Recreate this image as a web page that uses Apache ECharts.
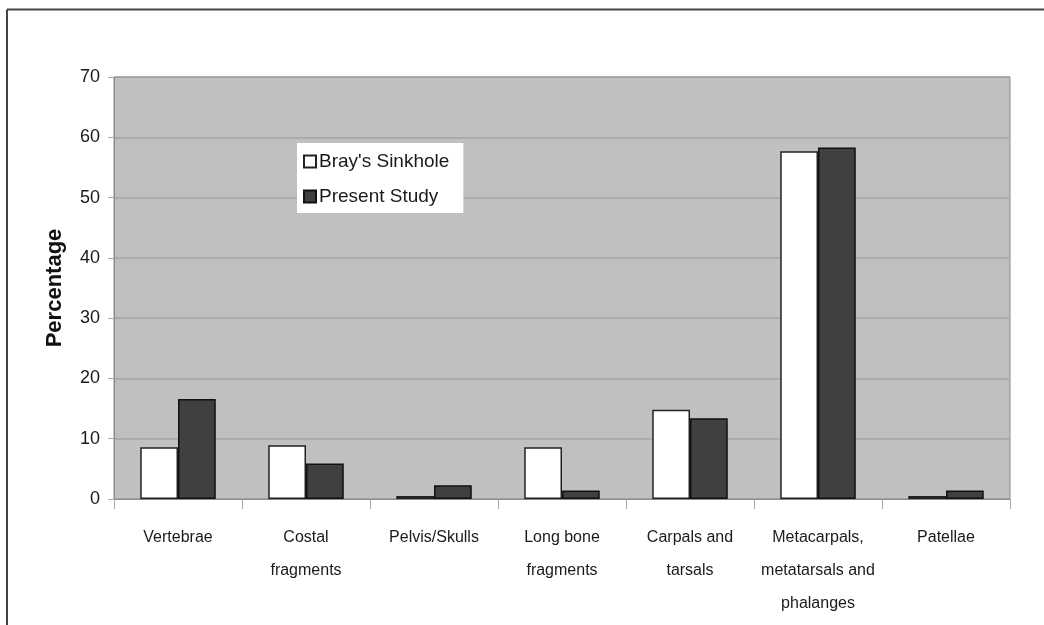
<!DOCTYPE html>
<html>
<head>
<meta charset="utf-8">
<script src="https://cdn.jsdelivr.net/npm/echarts@6/dist/echarts.min.js"></script>
<style>
html,body{margin:0;padding:0;background:#fff;}
#chart{width:1044px;height:625px;}
</style>
</head>
<body>
<div id="chart"></div>
<script>
const categories = ['Vertebrae', 'Costal\nfragments', 'Pelvis/Skulls', 'Long bone\nfragments', 'Carpals and\ntarsals', 'Metacarpals,\nmetatarsals and\nphalanges', 'Patellae'];
const braysSinkhole = [8.6, 8.9, 0.5, 8.6, 14.8, 57.7, 0.5];
const presentStudy = [16.6, 5.9, 2.3, 1.4, 13.4, 58.3, 1.4];
const yTicks = [0, 10, 20, 30, 40, 50, 60, 70];

const font = '"Liberation Sans", Arial, sans-serif';
const chart = echarts.init(document.getElementById('chart'));
chart.setOption({
  animation: false,
  backgroundColor: '#ffffff',
  textStyle: { fontFamily: font },
  graphic: [
    { type: 'line', shape: { x1: 7, y1: 9.5, x2: 1044, y2: 9.5 }, style: { stroke: '#444', lineWidth: 2 } },
    { type: 'line', shape: { x1: 7, y1: 9.5, x2: 7, y2: 625 }, style: { stroke: '#444', lineWidth: 2 } }
  ],
  grid: {
    left: 114, right: 34, top: 77, bottom: 126,
    show: true, backgroundColor: '#c0c0c0', borderColor: '#8a8a8a', borderWidth: 1
  },
  legend: {
    orient: 'vertical',
    left: 297, top: 143,
    backgroundColor: '#ffffff',
    padding: [9, 14, 7, 6],
    itemWidth: 12, itemHeight: 12,
    itemGap: 16,
    icon: 'rect',
    textStyle: { fontSize: 19, color: '#1a1a1a', fontFamily: font, lineHeight: 19, padding: [0, 0, 0, -2] },
    data: ["Bray's Sinkhole", 'Present Study']
  },
  xAxis: {
    type: 'category',
    data: categories,
    axisLine: { lineStyle: { color: '#8a8a8a' } },
    axisTick: { show: true, length: 10, lineStyle: { color: '#aaa' } },
    axisLabel: { color: '#1a1a1a', fontSize: 16, lineHeight: 33, margin: 22, interval: 0, fontFamily: font }
  },
  yAxis: {
    type: 'value',
    min: 0, max: 70, interval: 10,
    name: 'Percentage',
    nameLocation: 'middle',
    nameGap: 48,
    nameRotate: 90,
    nameTextStyle: { fontSize: 22, fontWeight: 'bold', color: '#111', fontFamily: font },
    axisLine: { show: true, lineStyle: { color: '#8a8a8a' } },
    axisTick: { show: true, length: 6, lineStyle: { color: '#aaa' } },
    axisLabel: { color: '#1a1a1a', fontSize: 18, margin: 14, fontFamily: font,
      formatter: function (v) { return yTicks.indexOf(v) >= 0 ? String(v) : ''; } },
    splitLine: { show: true, lineStyle: { color: '#a4a4a4', width: 1.5 } }
  },
  series: [
    {
      name: "Bray's Sinkhole", type: 'bar', data: braysSinkhole,
      barGap: '0%', barCategoryGap: '41%',
      itemStyle: { color: '#ffffff', borderColor: '#222', borderWidth: 1.5 }
    },
    {
      name: 'Present Study', type: 'bar', data: presentStudy,
      barGap: '0%', barCategoryGap: '41%',
      itemStyle: { color: '#404040', borderColor: '#111', borderWidth: 1.5 }
    }
  ]
});
</script>
</body>
</html>
